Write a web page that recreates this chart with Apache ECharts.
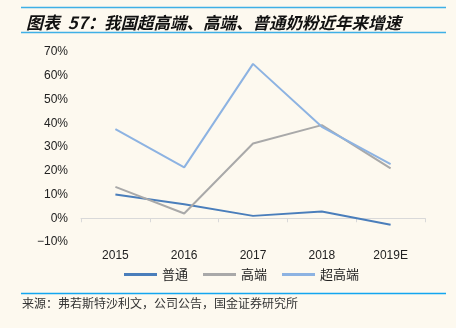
<!DOCTYPE html>
<html><head><meta charset="utf-8">
<script src="https://cdn.jsdelivr.net/npm/echarts@6/dist/echarts.min.js"></script>
<style>html,body{margin:0;padding:0;background:#fdf9ef}#c{width:456px;height:328px}</style>
</head><body><div id="c"></div>
<script>
const categories = ['2015','2016','2017','2018','2019E'];
const putong = [10.0, 5.9, 1.0, 2.8, -2.7];
const gaoduan = [13.2, 2.0, 31.5, 39.2, 21.0];
const chaogaoduan = [37.5, 21.4, 65.0, 38.5, 22.8];
const seriesNames = ['普通','高端','超高端'];
const yTicks = {min: -10, max: 70, interval: 10};

const chart = echarts.init(document.getElementById('c'));
const mk = (name, data, color) => ({
  name, type: 'line', data, symbol: 'none', smooth: false,
  lineStyle: {color, width: 2}, itemStyle: {color}
});
const titleStyle = {fontFamily: 'Noto Sans CJK SC', fontSize: 16.5, fontWeight: 'bold', fontStyle: 'italic', color: '#111'};
chart.setOption({
  backgroundColor: '#fdf9ef',
  animation: false,
  title: [
    {text: '图表  57：', left: 21, top: 9, textStyle: Object.assign({}, titleStyle, {fontSize: 17})},
    {text: '我国超高端、高端、普通奶粉近年来增速', left: 99, top: 9, textStyle: titleStyle}
  ],
  graphic: [
    {type: 'line', shape: {x1: 21, y1: 7.5, x2: 446, y2: 7.5}, style: {stroke: '#3fb0e6', lineWidth: 1.5}},
    {type: 'line', shape: {x1: 21, y1: 32.5, x2: 446, y2: 32.5}, style: {stroke: '#3fb0e6', lineWidth: 1.5}},
    {type: 'line', shape: {x1: 21, y1: 293.5, x2: 446, y2: 293.5}, style: {stroke: '#13a6f0', lineWidth: 1.5}},
    {type: 'text', left: 22, top: 297, style: {text: '来源：弗若斯特沙利文，公司公告，国金证券研究所', fontFamily: 'Noto Sans CJK SC', fontSize: 12, fill: '#333'}}
  ],
  legend: {
    data: seriesNames, left: 119, top: 263,
    icon: 'rect', itemWidth: 33, itemHeight: 3, itemGap: 15,
    textStyle: {fontFamily: 'Noto Sans CJK SC', fontSize: 13, color: '#222'}
  },
  grid: {left: 81, right: 31, top: 52, bottom: 86},
  xAxis: {
    type: 'category', data: categories, boundaryGap: true,
    axisLine: {onZero: true, lineStyle: {color: '#d9d9d9', width: 1}},
    axisTick: {show: true, length: 4, lineStyle: {color: '#d9d9d9'}},
    axisLabel: {fontFamily: 'Liberation Sans', fontSize: 12, color: '#222', margin: 8}
  },
  yAxis: {
    type: 'value', min: yTicks.min, max: yTicks.max, interval: yTicks.interval,
    axisLine: {show: false}, axisTick: {show: false}, splitLine: {show: false},
    axisLabel: {formatter: v => (v < 0 ? '−' + Math.abs(v) : v) + '%', fontFamily: 'Liberation Sans', fontSize: 12, color: '#222', margin: 13}
  },
  series: [
    mk(seriesNames[0], putong, '#4a7ebb'),
    mk(seriesNames[1], gaoduan, '#a9a9a9'),
    mk(seriesNames[2], chaogaoduan, '#8db3e2')
  ]
});
</script></body></html>
